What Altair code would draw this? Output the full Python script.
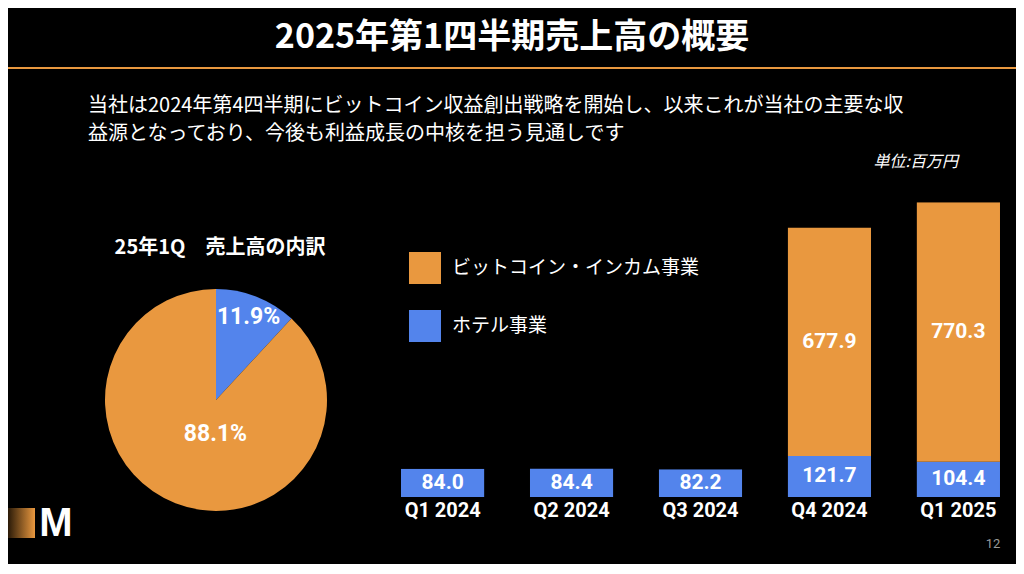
import altair as alt
import pandas as pd

# ---------------- data ----------------
quarters = ["Q1 2024", "Q2 2024", "Q3 2024", "Q4 2024", "Q1 2025"]
hotel_values = [84.0, 84.4, 82.2, 121.7, 104.4]
bitcoin_values = [0.0, 0.0, 0.0, 677.9, 770.3]

segment_bitcoin = "ビットコイン・インカム事業"
segment_hotel = "ホテル事業"
segments = [segment_bitcoin, segment_hotel]
segment_colors = ["#E9983F", "#5384EC"]

pie_segments = [segment_hotel, segment_bitcoin]
pie_shares = [11.9, 88.1]

title_text = "2025年第1四半期売上高の概要"
subtitle_lines = [
    "当社は2024年第4四半期にビットコイン収益創出戦略を開始し、以来これが当社の主要な収",
    "益源となっており、今後も利益成長の中核を担う見通しです",
]
unit_text = "単位:百万円"
pie_title = "25年1Q\u3000売上高の内訳"
logo_text = "M"
page_number = "12"

# ---------------- tables ----------------
rows = []
for q, h, b in zip(quarters, hotel_values, bitcoin_values):
    rows.append({"quarter": q, "segment": segment_hotel, "value": h, "order": 0})
    rows.append({"quarter": q, "segment": segment_bitcoin, "value": b, "order": 1})
bars_df = pd.DataFrame(rows)

pie_df = pd.DataFrame({
    "segment": pie_segments,
    "share": pie_shares,
    "order": [0, 1],
})

W, H = 1008, 556
JP = "Noto Sans CJK JP"
NUM = "Roboto"
ORANGE = segment_colors[0]

color_scale = alt.Scale(domain=segments, range=segment_colors)
legend_def = alt.Legend(
    orient="none", legendX=401, legendY=244, title=None,
    symbolType="square", symbolSize=1024, symbolStrokeWidth=0, symbolOpacity=1,
    labelFont=JP, labelFontSize=19, labelColor="white", labelOffset=11,
    labelLimit=500, rowPadding=26, padding=0,
)
x_scale = alt.Scale(domain=quarters, range=[393, 992], paddingInner=0.353, paddingOuter=0)
y_scale = alt.Scale(domain=[0, 1000], range=[489, 152], nice=False, zero=True)
x_axis = alt.Axis(
    title=None, orient="bottom", offset=-67, domain=False, ticks=False, tickSize=0,
    labelPadding=3, labelFont=NUM, labelFontSize=20, labelFontWeight="bold",
    labelColor="white", labelAngle=0, grid=False,
)

def one(text):
    return pd.DataFrame({"t": [text]})

# ---------------- decorations / texts ----------------
title = alt.Chart(one(title_text)).mark_text(
    font=JP, fontSize=34, fontWeight="bold", color="white", align="center", baseline="middle"
).encode(text="t:N", x=alt.value(504), y=alt.value(30))

rule = alt.Chart(one("")).mark_rule(color=ORANGE, strokeWidth=2).encode(
    x=alt.value(0), x2=alt.value(W), y=alt.value(60)
)

subtitle = alt.Chart(one("")).mark_text(
    text=subtitle_lines, font=JP, fontSize=20, color="white", align="left",
    baseline="top", lineHeight=28,
).encode(x=alt.value(80), y=alt.value(88))

unit = alt.Chart(one(unit_text)).mark_text(
    font=JP, fontSize=16, fontStyle="italic", color="white", align="right", baseline="middle"
).encode(text="t:N", x=alt.value(950), y=alt.value(154))

pie_title_mark = alt.Chart(one(pie_title)).mark_text(
    font=JP, fontSize=20, fontWeight="bold", color="white", align="center", baseline="middle"
).encode(text="t:N", x=alt.value(212), y=alt.value(240))

logo_rect = alt.Chart(one("")).mark_rect(
    color=alt.Gradient(
        gradient="linear",
        stops=[alt.GradientStop(color="#2a1a08", offset=0), alt.GradientStop(color=ORANGE, offset=1)],
        x1=0, x2=1, y1=0, y2=0,
    )
).encode(x=alt.value(0), x2=alt.value(27), y=alt.value(500), y2=alt.value(530))

logo_m = alt.Chart(one(logo_text)).mark_text(
    font="Liberation Sans", fontSize=40, fontWeight="bold", color="white",
    align="center", baseline="middle",
).encode(text="t:N", x=alt.value(48), y=alt.value(516))

page = alt.Chart(one(page_number)).mark_text(
    font=NUM, fontSize=13, color="#9a9a9a", align="center", baseline="middle"
).encode(text="t:N", x=alt.value(985), y=alt.value(536))

# ---------------- pie ----------------
pie_base = alt.Chart(pie_df).transform_calculate(
    label="format(datum.share, '.1f') + '%'"
).encode(
    theta=alt.Theta("share:Q", stack=True),
    order=alt.Order("order:Q"),
    x=alt.value(208), y=alt.value(392),
)
pie = pie_base.mark_arc(radius=111).encode(
    color=alt.Color("segment:N", scale=color_scale, legend=legend_def)
)
pie_lbl_hotel = pie_base.mark_text(
    radius=89, font=NUM, fontSize=23, fontWeight="bold", color="white",
    align="center", baseline="middle",
).encode(text=alt.condition(f"datum.segment == '{segment_hotel}'", alt.Text("label:N"), alt.value("")))
pie_lbl_btc = pie_base.mark_text(
    radius=37, dx=13, font=NUM, fontSize=23, fontWeight="bold", color="white",
    align="center", baseline="middle",
).encode(text=alt.condition(f"datum.segment == '{segment_bitcoin}'", alt.Text("label:N"), alt.value("")))

# ---------------- bars ----------------
bars = alt.Chart(bars_df).transform_filter("datum.value > 0").mark_bar(
    cornerRadiusTopLeft=alt.ExprRef(expr="datum.order == 1 ? 3 : 0"),
    cornerRadiusTopRight=alt.ExprRef(expr="datum.order == 1 ? 3 : 0"),
).encode(
    x=alt.X("quarter:N", scale=x_scale, axis=x_axis, sort=quarters),
    y=alt.Y("value:Q", stack="zero", scale=y_scale, axis=None),
    color=alt.Color("segment:N", scale=color_scale, legend=legend_def),
    order=alt.Order("order:Q"),
)

bar_labels = alt.Chart(bars_df).transform_window(
    cum="sum(value)", groupby=["quarter"], sort=[alt.SortField("order")], frame=[None, 0]
).transform_calculate(
    mid="datum.cum - datum.value / 2"
).transform_filter("datum.value > 0").mark_text(
    font=NUM, fontSize=21, fontWeight="bold", color="white", align="center", baseline="middle"
).encode(
    x=alt.X("quarter:N", scale=x_scale, axis=x_axis, sort=quarters),
    y=alt.Y("mid:Q", scale=y_scale, axis=None),
    text=alt.Text("value:Q", format=".1f"),
)

chart = alt.layer(
    title, rule, subtitle, unit, pie_title_mark,
    pie, pie_lbl_hotel, pie_lbl_btc,
    bars, bar_labels,
    logo_rect, logo_m, page,
).properties(
    width=W, height=H, background="black", padding=0,
    autosize=alt.AutoSizeParams(type="none"),
).configure_view(stroke=None)

chart.save("out.html", embed_options={"renderer": "svg", "actions": False})
